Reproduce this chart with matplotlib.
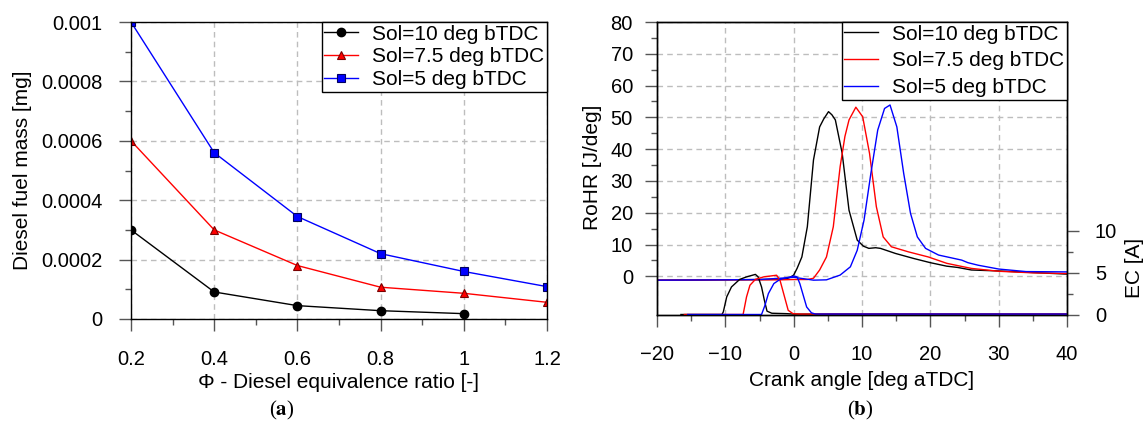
import numpy as np
import matplotlib
matplotlib.use("Agg")
import matplotlib.pyplot as plt
from matplotlib.ticker import FixedLocator

plt.rcParams['font.family'] = ['Liberation Sans', 'DejaVu Sans']
plt.rcParams['mathtext.fontset'] = 'stix'

# ---- panel (a): diesel fuel mass vs equivalence ratio ----
phi = [0.2, 0.4, 0.6, 0.8, 1.0, 1.2]
mass_sol10 = [0.000300, 0.000091, 0.000045, 0.000028, 0.000018]
mass_sol75 = [0.000600, 0.000300, 0.000180, 0.000107, 0.0000865, 0.0000562]
mass_sol5 = [0.001000, 0.000560, 0.000345, 0.000220, 0.000160, 0.000109]

# ---- panel (b): RoHR and injector current vs crank angle ----
ca_black = [-20, -15, -10, -5, -2, -1, -0.5, 0, 0.5, 1.2, 2.0, 2.9, 3.8, 4.4, 5.1,
            5.6, 6.1, 7.1, 8.1, 9.3, 10.2, 11.0, 12.0, 12.7, 14.9, 17.6, 20.0,
            22.4, 24.0, 26.0, 30.0, 35.0, 40.0]
rohr_black = [-1.2, -1.2, -1.1, -1.0, -0.9, -0.7, -0.3, 0.4, 2.5, 6.1, 15.6, 36.6,
              47.0, 49.5, 51.8, 50.8, 49.2, 38.7, 20.8, 11.4, 9.5, 8.8, 9.0, 8.8,
              7.2, 5.6, 4.3, 3.2, 2.8, 2.0, 1.7, 1.2, 0.7]
ca_red = [-20, -10, -5, -2, 0, 2.0, 2.9, 3.8, 4.8, 5.8, 6.8, 7.5, 8.1, 9.1, 10.1,
          11.1, 12.1, 13.1, 14.3, 16.8, 19.7, 22.4, 24.4, 26.0, 30.0, 35.0, 40.0]
rohr_red = [-1.2, -1.1, -1.1, -1.1, -1.0, -1.0, -0.6, 2.0, 6.1, 15.6, 34.5, 44.0,
            49.2, 53.2, 50.2, 38.7, 21.9, 12.4, 9.3, 7.7, 6.1, 4.1, 3.2, 2.5, 1.6,
            1.1, 0.9]
ca_blue = [-20, -10, -5, -2, 0, 1.0, 2.9, 4.8, 6.8, 8.3, 9.3, 10.3, 11.3, 12.3,
           13.3, 14.1, 15.1, 16.1, 17.1, 18.1, 19.3, 21.2, 24.6, 25.5, 27.0, 30.0,
           34.0, 40.0]
rohr_blue = [-1.2, -1.1, -1.0, -0.6, -0.3, -0.6, -1.2, -1.1, 0.4, 3.0, 8.2, 17.7,
             32.4, 46.0, 52.8, 53.9, 47.0, 32.4, 19.8, 12.4, 8.8, 6.7, 5.1, 4.3,
             3.5, 2.3, 1.5, 1.4]

ec_ca_black = [-16.5, -10.5, -10.3, -9.8, -9.1, -7.9, -6.9, -5.6, -5.2, -4.7, -4.3,
               -3.9, -3.2, -1.0, 0, 40]
ec_black = [0, 0, 0.3, 2.1, 3.3, 4.2, 4.5, 4.8, 4.5, 3.3, 1.75, 0.4, 0.15, 0.1,
            0.05, 0.05]
ec_ca_red = [-16, -7.4, -6.9, -6.4, -5.6, -4.4, -2.5, -2.0, -1.4, -0.8, -0.1, 1.0, 40]
ec_red = [0, 0, 2.1, 3.5, 4.2, 4.5, 4.7, 4.1, 2.3, 0.5, 0.1, 0.05, 0.05]
ec_ca_blue = [-15.5, -4.7, -4.2, -3.7, -2.9, -2.0, 0, 0.5, 0.9, 1.4, 1.9, 2.6, 3.2, 40]
ec_blue = [0, 0, 1.1, 2.5, 3.7, 4.2, 4.6, 4.5, 3.7, 2.3, 0.9, 0.2, 0.05, 0.05]

labels = ['Sol=10 deg bTDC', 'Sol=7.5 deg bTDC', 'Sol=5 deg bTDC']

W, H = 1148, 428
fig = plt.figure(figsize=(W / 100, H / 100), dpi=100)


def box(x0, y0, x1, y1):
    # pixel box (top-left origin) -> figure fraction rect
    return [x0 / W, 1 - y1 / H, (x1 - x0) / W, (y1 - y0) / H]


def style_ticks(ax, pad_x, pad_y):
    ax.tick_params(which='major', direction='out', length=8.6, width=1.0,
                   color='#555555', labelsize=14.5)
    ax.tick_params(which='minor', direction='out', length=4.3, width=1.0,
                   color='#555555')
    ax.tick_params(axis='x', pad=pad_x)
    ax.tick_params(axis='y', pad=pad_y)
    for s in ax.spines.values():
        s.set_linewidth(1.0)


grid_kw = dict(color='#bdbdbd', linestyle=(0, (4, 3)), linewidth=1.0)
leg_kw = dict(loc='upper right', bbox_to_anchor=(1, 1), borderaxespad=0,
              fancybox=False, edgecolor='black', framealpha=1, borderpad=0.12,
              handlelength=1.6, handletextpad=0.7, fontsize=15)

# ---------------- (a) ----------------
ax1 = fig.add_axes(box(131, 22, 547, 319))
ax1.plot(phi[:len(mass_sol10)], mass_sol10, color='black', lw=1.0, marker='o',
         ms=6, mfc='black', mec='black', label=labels[0])
ax1.plot(phi, mass_sol75, color='red', lw=1.0, marker='^', ms=6, mfc='red',
         mec='#7a0000', mew=0.8, label=labels[1])
ax1.plot(phi, mass_sol5, color='blue', lw=1.0, marker='s', ms=6, mfc='blue',
         mec='#000060', mew=0.8, label=labels[2])
ax1.set_xlim(0.2, 1.2)
ax1.set_ylim(0, 0.001)
ax1.set_xticks(phi)
ax1.set_xticklabels(['0.2', '0.4', '0.6', '0.8', '1', '1.2'])
ax1.xaxis.set_minor_locator(FixedLocator([0.3, 0.5, 0.7, 0.9, 1.1]))
yt = [0, 0.0002, 0.0004, 0.0006, 0.0008, 0.001]
ax1.set_yticks(yt)
ax1.set_yticklabels(['0', '0.0002', '0.0004', '0.0006', '0.0008', '0.001'])
ax1.yaxis.set_minor_locator(FixedLocator([0.0001, 0.0003, 0.0005, 0.0007, 0.0009]))
ax1.grid(True, which='major', **grid_kw)
ax1.set_axisbelow(True)
style_ticks(ax1, 13.7, 12)
ax1.set_xlabel('Φ - Diesel equivalence ratio [-]', fontsize=15, va='center')
ax1.xaxis.set_label_coords(339 / W, 1 - 382 / H, transform=fig.transFigure)
ax1.set_ylabel('Diesel fuel mass [mg]', fontsize=15, va='center')
ax1.yaxis.set_label_coords(23 / W, 1 - 170 / H, transform=fig.transFigure)
leg1 = ax1.legend(labelspacing=0.18, **leg_kw)
leg1.get_frame().set_linewidth(1.0)

# ---------------- (b) ----------------
ax2 = fig.add_axes(box(657, 22, 1067, 314.5))
h1, = ax2.plot(ca_black, rohr_black, color='black', lw=1.0, label=labels[0])
h2, = ax2.plot(ca_red, rohr_red, color='red', lw=1.0, label=labels[1])
h3, = ax2.plot(ca_blue, rohr_blue, color='blue', lw=1.0, label=labels[2])
ax2.set_xlim(-20, 40)
ax2.set_ylim(-12, 80)
ax2.set_xticks(range(-20, 41, 10))
ax2.xaxis.set_minor_locator(FixedLocator([-15, -5, 5, 15, 25, 35]))
ax2.set_yticks(range(0, 81, 10))
ax2.yaxis.set_minor_locator(FixedLocator(list(range(5, 80, 10))))
ax2.grid(True, which='major', **grid_kw)
ax2.set_axisbelow(True)
style_ticks(ax2, 13.7, 8.7)
ax2.set_xlabel('Crank angle [deg aTDC]', fontsize=15, va='center')
ax2.xaxis.set_label_coords(862 / W, 1 - 380 / H, transform=fig.transFigure)
ax2.set_ylabel('RoHR [J/deg]', fontsize=15, va='center')
ax2.yaxis.set_label_coords(593 / W, 1 - 167 / H, transform=fig.transFigure)

ax3 = ax2.twinx()
ax3.plot(ec_ca_black, ec_black, color='black', lw=1.0)
ax3.plot(ec_ca_red, ec_red, color='red', lw=1.0)
ax3.plot(ec_ca_blue, ec_blue, color='blue', lw=1.0)
ax3.set_ylim(0, 35)
ax3.set_yticks([0, 5, 10])
ax3.yaxis.set_minor_locator(FixedLocator([2.5, 7.5]))
style_ticks(ax3, 13.7, 11.5)
ax3.set_ylabel('EC [A]', fontsize=15, va='center')
ax3.yaxis.set_label_coords(1135 / W, 1 - 268 / H, transform=fig.transFigure)
leg2 = ax3.legend(handles=[h1, h2, h3], labelspacing=0.38, **leg_kw)
leg2.get_frame().set_linewidth(1.0)

# sub-figure captions
fig.text(282 / W, 1 - 410 / H, r'($\mathbf{a}$)', family='Liberation Serif',
         fontsize=15, ha='center', va='center')
fig.text(860 / W, 1 - 410 / H, r'($\mathbf{b}$)', family='Liberation Serif',
         fontsize=15, ha='center', va='center')

fig.savefig('out.png', dpi=100)
